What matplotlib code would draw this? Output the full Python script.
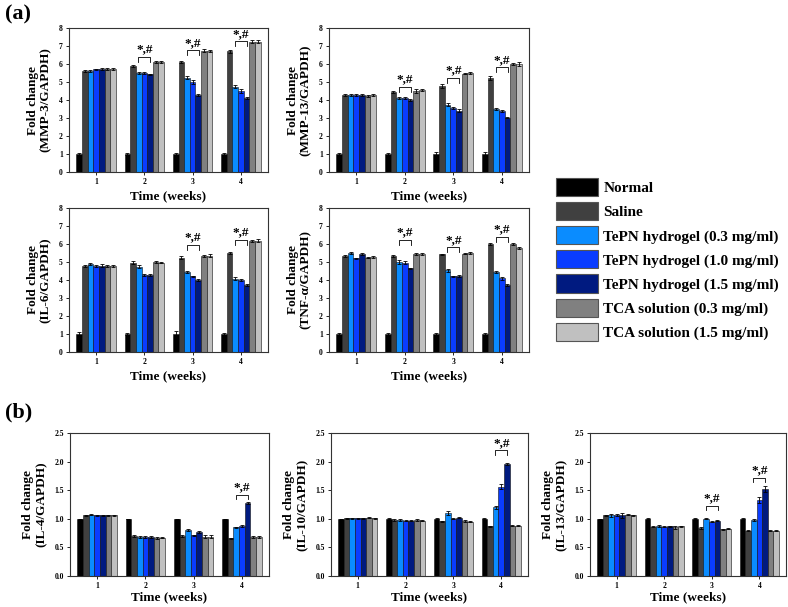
import matplotlib
matplotlib.use("Agg")
import matplotlib.pyplot as plt
import numpy as np
from matplotlib.patches import Patch

plt.rcParams['font.family'] = ['Liberation Serif', 'DejaVu Serif']
plt.rcParams['font.weight'] = 'bold'
plt.rcParams['axes.labelweight'] = 'bold'

weeks = [1, 2, 3, 4]
groups = ["Normal", "Saline", "TePN hydrogel (0.3 mg/ml)", "TePN hydrogel (1.0 mg/ml)",
          "TePN hydrogel (1.5 mg/ml)", "TCA solution (0.3 mg/ml)", "TCA solution (1.5 mg/ml)"]
colors = ["#000000", "#404040", "#0a8cff", "#0a3cff", "#001a80", "#808080", "#c0c0c0"]

# values per week (rows) x group (columns)
mmp3 = [[1.00, 5.60, 5.60, 5.70, 5.70, 5.70, 5.70],
        [1.00, 5.90, 5.50, 5.50, 5.42, 6.10, 6.10],
        [1.00, 6.12, 5.25, 5.00, 4.30, 6.75, 6.72],
        [1.00, 6.70, 4.75, 4.50, 4.12, 7.25, 7.25]]
mmp3_err = [[0.05, 0.06, 0.06, 0.05, 0.06, 0.06, 0.06],
            [0.05, 0.05, 0.08, 0.05, 0.05, 0.06, 0.06],
            [0.05, 0.06, 0.06, 0.12, 0.06, 0.06, 0.06],
            [0.05, 0.10, 0.06, 0.10, 0.05, 0.08, 0.08]]

mmp13 = [[1.00, 4.28, 4.30, 4.27, 4.27, 4.22, 4.27],
         [1.00, 4.45, 4.10, 4.12, 4.00, 4.50, 4.55],
         [1.00, 4.78, 3.75, 3.57, 3.40, 5.47, 5.50],
         [1.00, 5.22, 3.50, 3.40, 3.02, 6.02, 6.00]]
mmp13_err = [[0.08, 0.06, 0.06, 0.05, 0.06, 0.08, 0.07],
             [0.05, 0.05, 0.06, 0.05, 0.05, 0.10, 0.05],
             [0.10, 0.10, 0.06, 0.05, 0.08, 0.04, 0.06],
             [0.10, 0.10, 0.05, 0.06, 0.04, 0.06, 0.10]]

il6 = [[1.00, 4.80, 4.88, 4.80, 4.80, 4.80, 4.80],
       [1.00, 4.97, 4.75, 4.30, 4.27, 5.00, 4.97],
       [1.00, 5.25, 4.45, 4.20, 4.00, 5.35, 5.35],
       [1.00, 5.50, 4.08, 4.00, 3.72, 6.18, 6.18]]
il6_err = [[0.10, 0.06, 0.06, 0.05, 0.10, 0.06, 0.06],
           [0.05, 0.10, 0.10, 0.05, 0.05, 0.06, 0.04],
           [0.15, 0.08, 0.05, 0.05, 0.05, 0.06, 0.08],
           [0.08, 0.06, 0.08, 0.08, 0.05, 0.06, 0.08]]

tnf = [[1.00, 5.35, 5.48, 5.20, 5.45, 5.25, 5.28],
       [1.00, 5.35, 5.00, 4.97, 4.65, 5.45, 5.45],
       [1.00, 5.42, 4.55, 4.20, 4.20, 5.47, 5.50],
       [1.00, 6.00, 4.43, 4.10, 3.72, 6.00, 5.80]]
tnf_err = [[0.05, 0.05, 0.06, 0.04, 0.05, 0.05, 0.05],
           [0.08, 0.05, 0.10, 0.06, 0.04, 0.05, 0.05],
           [0.05, 0.05, 0.08, 0.05, 0.06, 0.05, 0.08],
           [0.08, 0.05, 0.06, 0.08, 0.05, 0.06, 0.05]]

il4 = [[1.00, 1.06, 1.07, 1.06, 1.06, 1.06, 1.06],
       [1.00, 0.70, 0.68, 0.68, 0.68, 0.66, 0.67],
       [1.00, 0.70, 0.80, 0.71, 0.77, 0.69, 0.69],
       [1.00, 0.66, 0.85, 0.88, 1.28, 0.68, 0.68]]
il4_err = [[0.00, 0.01, 0.01, 0.01, 0.01, 0.01, 0.01],
           [0.00, 0.01, 0.02, 0.02, 0.02, 0.02, 0.01],
           [0.00, 0.01, 0.02, 0.01, 0.01, 0.02, 0.02],
           [0.00, 0.01, 0.01, 0.02, 0.02, 0.02, 0.02]]

il10 = [[1.00, 1.01, 1.01, 1.01, 1.01, 1.02, 1.01],
        [1.00, 0.98, 0.98, 0.97, 0.97, 0.98, 0.97],
        [1.00, 0.96, 1.10, 1.00, 1.02, 0.96, 0.95],
        [1.00, 0.87, 1.20, 1.56, 1.96, 0.88, 0.88]]
il10_err = [[0.00, 0.01, 0.01, 0.01, 0.01, 0.01, 0.01],
            [0.01, 0.01, 0.01, 0.01, 0.01, 0.01, 0.01],
            [0.01, 0.01, 0.04, 0.01, 0.01, 0.02, 0.01],
            [0.01, 0.01, 0.02, 0.04, 0.02, 0.01, 0.01]]

il13 = [[1.00, 1.06, 1.06, 1.07, 1.06, 1.07, 1.06],
        [1.00, 0.86, 0.87, 0.86, 0.87, 0.85, 0.87],
        [1.00, 0.84, 1.00, 0.95, 0.97, 0.82, 0.83],
        [1.00, 0.79, 0.98, 1.33, 1.52, 0.79, 0.79]]
il13_err = [[0.00, 0.01, 0.02, 0.02, 0.04, 0.01, 0.01],
            [0.01, 0.01, 0.02, 0.01, 0.01, 0.02, 0.01],
            [0.01, 0.01, 0.01, 0.01, 0.01, 0.01, 0.01],
            [0.01, 0.01, 0.01, 0.05, 0.05, 0.01, 0.01]]

# significance brackets: (week, bracket height)
mmp3_sig = [(2, 6.40), (3, 6.76), (4, 7.26)]
mmp13_sig = [(2, 4.72), (3, 5.22), (4, 5.81)]
il6_sig = [(3, 5.96), (4, 6.23)]
tnf_sig = [(2, 6.24), (3, 5.81), (4, 6.39)]
il4_sig = [(4, 1.42)]
il10_sig = [(4, 2.20)]
il13_sig = [(3, 1.23), (4, 1.72)]

W, H = 788, 607
fig = plt.figure(figsize=(W / 100, H / 100), dpi=100)


def rect(l, r, t, b):
    return [l / W, 1 - b / H, (r - l) / W, (b - t) / H]


bw = 0.117


def panel(pos, vals, errs, ylabel, ymax, yticks, sig, leg, xlpad):
    ax = fig.add_axes(pos)
    vals = np.array(vals)
    errs = np.array(errs)
    x = np.array(weeks, dtype=float)
    for j in range(len(groups)):
        xj = x + (j - 3) * bw
        ax.bar(xj, vals[:, j], width=bw, color=colors[j], edgecolor='#111111',
               linewidth=0.4, zorder=2)
        ax.errorbar(xj, vals[:, j], yerr=errs[:, j], fmt='none', ecolor='black',
                    elinewidth=0.6, capsize=1.3, capthick=0.6, zorder=3)
    ax.set_xlim(0.44, 4.56)
    ax.set_ylim(0, ymax)
    ax.set_xticks(weeks)
    ax.set_xticklabels([str(w) for w in weeks])
    ax.set_yticks(yticks)
    if ymax < 5:
        ax.set_yticklabels([f"{t:.1f}" for t in yticks])
    ax.tick_params(labelsize=5.5, length=2.5, width=0.6, direction='out', pad=2)
    for s in ax.spines.values():
        s.set_linewidth(0.8)
        s.set_color('#333333')
    ax.set_ylabel(ylabel, fontsize=9.5, fontweight='bold', labelpad=5, linespacing=1.1)
    ax.set_xlabel("Time (weeks)", fontsize=9.5, fontweight='bold', labelpad=xlpad)
    for wk, hgt in sig:
        x0 = wk + (2 - 3) * bw - 0.01
        x1 = wk + (4 - 3) * bw + 0.01
        ax.plot([x0, x0, x1, x1], [hgt - leg, hgt, hgt, hgt - leg],
                color='black', lw=0.6, zorder=4)
        ax.annotate("*,#", xy=((x0 + x1) / 2, hgt), xytext=(0, 1.0),
                    textcoords='offset points', ha='center', va='bottom',
                    fontsize=9.5, fontweight='bold')
    return ax


int_ticks = list(range(0, 9))
half_ticks = [0.0, 0.5, 1.0, 1.5, 2.0, 2.5]

panel(rect(69, 268, 28, 172), mmp3, mmp3_err, "Fold change\n(MMP-3/GAPDH)", 8, int_ticks, mmp3_sig, 0.28, 3)
panel(rect(329, 529, 28, 172), mmp13, mmp13_err, "Fold change\n(MMP-13/GAPDH)", 8, int_ticks, mmp13_sig, 0.28, 3)
panel(rect(69, 268, 208, 352), il6, il6_err, "Fold change\n(IL-6/GAPDH)", 8, int_ticks, il6_sig, 0.28, 3)
panel(rect(329, 529, 208, 352), tnf, tnf_err, "Fold change\n(TNF-\u03b1/GAPDH)", 8, int_ticks, tnf_sig, 0.28, 3)
panel(rect(70, 269, 433, 576), il4, il4_err, "Fold change\n(IL-4/GAPDH)", 2.5, half_ticks, il4_sig, 0.08, 1)
panel(rect(331, 528, 433, 576), il10, il10_err, "Fold change\n(IL-10/GAPDH)", 2.5, half_ticks, il10_sig, 0.08, 1)
panel(rect(590, 786, 433, 576), il13, il13_err, "Fold change\n(IL-13/GAPDH)", 2.5, half_ticks, il13_sig, 0.08, 1)

fig.text(5 / W, 1 - 4 / H, "(a)", fontsize=16, fontweight='bold', va='top', ha='left')
fig.text(5 / W, 1 - 402 / H, "(b)", fontsize=16, fontweight='bold', va='top', ha='left')

handles = [Patch(facecolor=c, edgecolor='#555555', linewidth=0.8) for c in colors]
fs = 11
fig.legend(handles, groups, loc='upper left', bbox_to_anchor=(556 / W, 1 - 178 / H),
           frameon=False, prop={'weight': 'bold', 'size': fs},
           handlelength=42 / 15.3, handleheight=1.45, handletextpad=0.35,
           labelspacing=0.39, borderpad=0, borderaxespad=0)

fig.savefig("out.png", dpi=100)
